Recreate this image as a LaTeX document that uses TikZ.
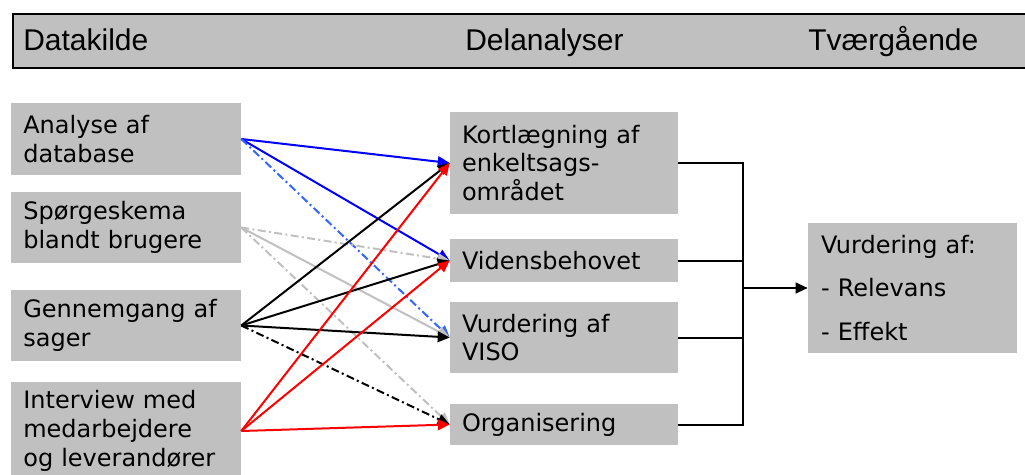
\documentclass[tikz,border=0pt]{standalone}
\usepackage{fontspec}
\setmainfont{DejaVu Sans}
\newfontfamily\headfont{Liberation Sans}
\usetikzlibrary{arrows.meta}
\definecolor{solv}{HTML}{C0C0C0}
\definecolor{lysblaa}{HTML}{3366FF}

\begin{document}
\begin{tikzpicture}[x=0.75pt, y=-0.75pt,
      boks/.style = {shape=rectangle, fill=solv, inner sep=0pt,
        align=left, font=\fontsize{18}{21.5}\selectfont
      },
      kilde/.style = {boks, minimum width=172.5pt, text width=154pt},
      delanalyse/.style = {boks, minimum width=171pt, text width=153pt},
      vurdering/.style = {boks, minimum width=156.75pt, text width=137pt,
        minimum height=97.5pt
      },
      topbar/.style = {shape=rectangle, draw, line width=1.5pt, fill=solv,
        minimum width=771pt, minimum height=40.5pt, anchor=north west
      },
      overskrift/.style = {anchor=base west, inner sep=0pt,
        font=\headfont\fontsize{22.5}{27}\selectfont
      },
      pil/.style = {line width=1.5pt, -{Triangle[length=9pt,width=8pt]}},
      stiplet/.style = {dash pattern=on 6pt off 2.5pt on 1.5pt off 2.5pt}
    ]
    \useasboundingbox (0,0) rectangle (1025,475);

    %overskrift
    \node[topbar] (top) at (12,13) {};
    \node[overskrift] (hkilde) at (23,50) {Datakilde};
    \node[overskrift] (hdel) at (465,50) {Delanalyser};
    \node[overskrift] (htvaer) at (808,50) {Tværgående};

    %datakilder
    \node[kilde, minimum height=54pt] (ana) at (126,139) {Analyse af\\database};
    \node[kilde, minimum height=53.25pt] (spg) at (126,227.5) {Spørgeskema\\blandt brugere};
    \node[kilde, minimum height=53.25pt] (gen) at (126,325.5) {Gennemgang af\\sager};
    \node[kilde, minimum height=73.5pt] (int) at (126,431) {Interview med\\medarbejdere\\og leverandører};

    %delanalyser
    \node[delanalyse, minimum height=76.5pt] (kort) at (564,163) {Kortlægning af\\enkeltsags-\\området};
    \node[delanalyse, minimum height=32.25pt] (vid) at (564,260.5) {Vidensbehovet};
    \node[delanalyse, minimum height=53.25pt] (viso) at (564,337.5) {Vurdering af\\VISO};
    \node[delanalyse, minimum height=30.75pt] (org) at (564,424.5) {Organisering};

    %tvaergaaende
    \node[vurdering] (eval) at (912.5,288) {Vurdering af:\\[11pt]- Relevans\\[11pt]- Effekt};
    \coordinate (bus) at (743,288);

    %pile
    \draw[pil, blue] (ana.east) -- (kort.west);
    \draw[pil, blue] (ana.east) -- (vid.west);
    \draw[pil, lysblaa, stiplet] (ana.east) -- (viso.west);
    \draw[pil, solv, stiplet] (spg.east) -- (vid.west);
    \draw[pil, solv] (spg.east) -- (viso.west);
    \draw[pil, solv, stiplet] (spg.east) -- (org.west);
    \draw[pil, black] (gen.east) -- (kort.west);
    \draw[pil, black] (gen.east) -- (vid.west);
    \draw[pil, black] (gen.east) -- (viso.west);
    \draw[pil, black, stiplet] (gen.east) -- (org.west);
    \draw[pil, red] (int.east) -- (kort.west);
    \draw[pil, red] (int.east) -- (vid.west);
    \draw[pil, red] (int.east) -- (org.west);

    \draw[line width=1.5pt] (kort.east) -| (bus);
    \draw[line width=1.5pt] (vid.east) -| (bus);
    \draw[line width=1.5pt] (viso.east) -| (bus);
    \draw[line width=1.5pt] (org.east) -| (bus);
    \draw[line width=1.5pt, -{Triangle[length=9pt,width=8pt]}] (bus) -- (eval.west);
\end{tikzpicture}
\end{document}
